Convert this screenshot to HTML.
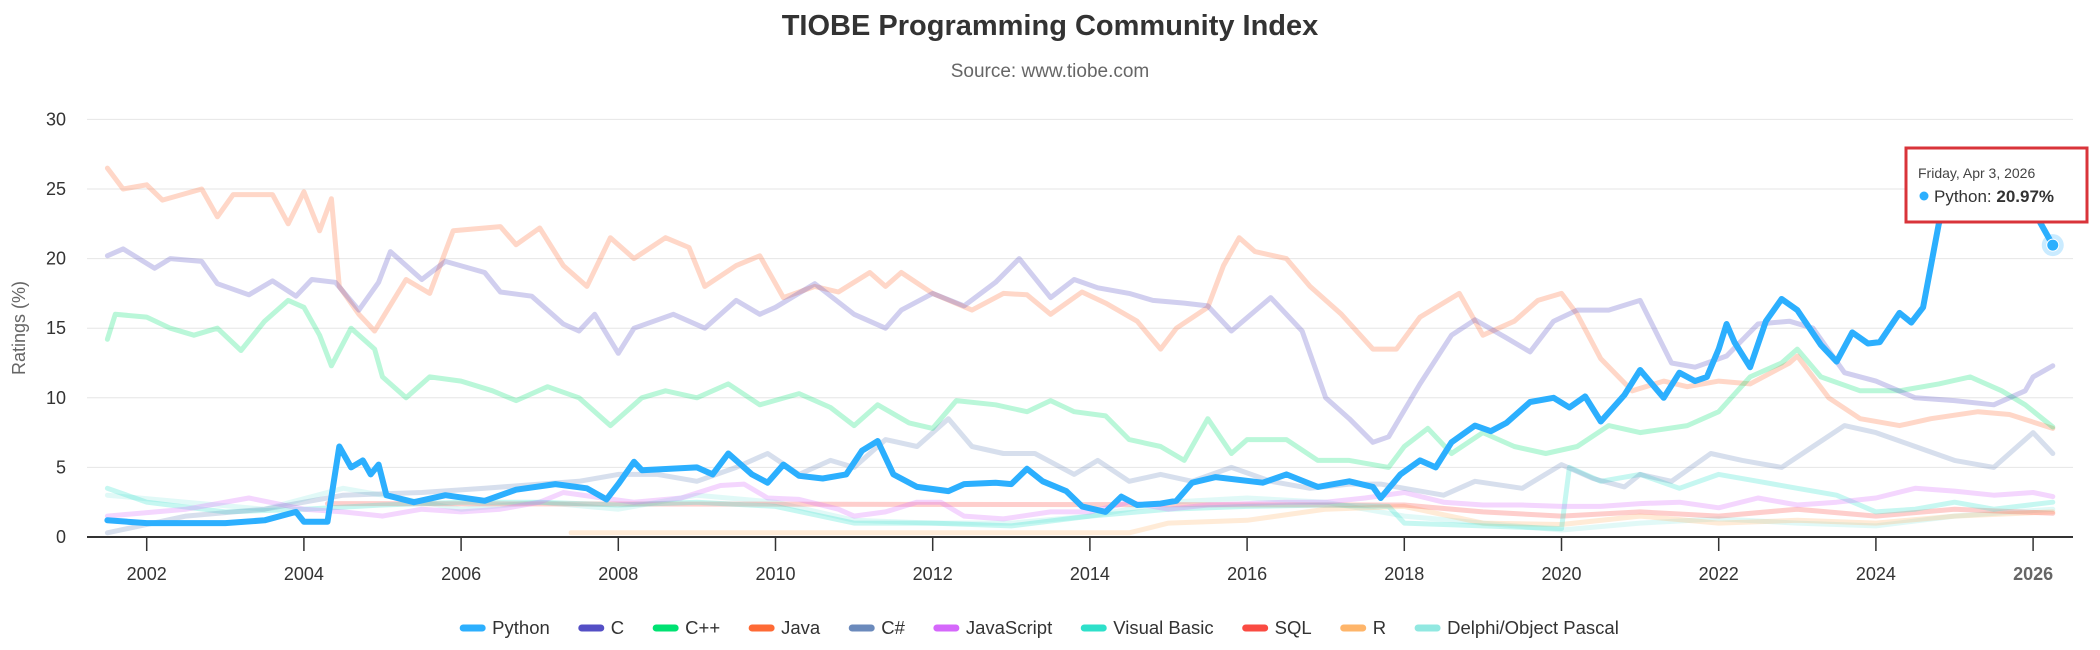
<!DOCTYPE html>
<html><head><meta charset="utf-8"><style>
html,body{margin:0;padding:0;background:#fff;}
svg{display:block;font-family:"Liberation Sans",sans-serif;}
</style></head><body>
<svg id="chart" width="2100" height="650" viewBox="0 0 2100 650" xmlns="http://www.w3.org/2000/svg">
<text x="1050" y="35" text-anchor="middle" font-size="29" font-weight="bold" fill="#333">TIOBE Programming Community Index</text>
<text x="1050" y="77" text-anchor="middle" font-size="19" fill="#666">Source: www.tiobe.com</text>
<text transform="translate(25,328) rotate(-90)" text-anchor="middle" font-size="18" fill="#666">Ratings (%)</text>
<g id="grid"></g><g id="series"></g><g id="axis"></g><g id="legend"></g>
<g>
<rect x="1906" y="148" width="181" height="74" fill="#fff" stroke="#d9343a" stroke-width="3"/>
<text x="1918" y="178" font-size="14" fill="#444">Friday, Apr 3, 2026</text>
<circle cx="1924" cy="196" r="4.5" fill="#2caffe"/>
<text x="1934" y="202" font-size="17" fill="#333">Python: <tspan font-weight="bold">20.97%</tspan></text>
</g>
</svg>
<script>
const yTicks=[0,5,10,15,20,25,30];
const xTicks=[2002,2004,2006,2008,2010,2012,2014,2016,2018,2020,2022,2024,2026];
const names=["Python","C","C++","Java","C#","JavaScript","Visual Basic","SQL","R","Delphi/Object Pascal"];
const colors=["#2caffe","#544fc5","#00e272","#fe6a35","#6b8abc","#d568fb","#2ee0ca","#fa4b42","#feb56a","#91e8e1"];
const pyT=[2001.5,2002,2003,2003.5,2003.9,2004,2004.3,2004.45,2004.6,2004.75,2004.85,2004.95,2005.05,2005.4,2005.8,2006.3,2006.7,2007.2,2007.6,2007.85,2008,2008.2,2008.3,2009,2009.2,2009.4,2009.7,2009.9,2010.1,2010.3,2010.6,2010.9,2011.1,2011.3,2011.5,2011.8,2012.2,2012.4,2012.8,2013,2013.2,2013.4,2013.7,2013.9,2014.2,2014.4,2014.6,2014.9,2015.1,2015.3,2015.6,2016.2,2016.5,2016.9,2017.3,2017.6,2017.7,2017.95,2018.2,2018.4,2018.6,2018.9,2019.1,2019.3,2019.6,2019.9,2020.1,2020.3,2020.5,2020.8,2021,2021.3,2021.5,2021.7,2021.85,2022,2022.1,2022.2,2022.4,2022.6,2022.8,2023,2023.3,2023.5,2023.7,2023.9,2024.05,2024.3,2024.45,2024.6,2024.8,2025,2025.5,2026,2026.25];
const pyV=[1.2,1.0,1.0,1.2,1.8,1.1,1.1,6.5,5.0,5.5,4.5,5.2,3.0,2.5,3.0,2.6,3.4,3.8,3.5,2.7,3.8,5.4,4.8,5.0,4.5,6.0,4.5,3.9,5.2,4.4,4.2,4.5,6.2,6.9,4.5,3.6,3.3,3.8,3.9,3.8,4.9,4.0,3.3,2.2,1.8,2.9,2.3,2.4,2.6,3.9,4.3,3.9,4.5,3.6,4.0,3.6,2.8,4.5,5.5,5.0,6.8,8.0,7.6,8.2,9.7,10.0,9.3,10.1,8.3,10.2,12.0,10.0,11.8,11.2,11.5,13.5,15.3,14.0,12.2,15.5,17.1,16.3,13.8,12.6,14.7,13.9,14.0,16.1,15.4,16.5,22.5,25.0,25.5,23.5,20.97];
const cT=[2001.5,2001.7,2002.1,2002.3,2002.7,2002.9,2003.3,2003.6,2003.9,2004.1,2004.4,2004.7,2004.95,2005.1,2005.5,2005.8,2006.3,2006.5,2006.9,2007.3,2007.5,2007.7,2008,2008.2,2008.7,2009.1,2009.5,2009.8,2010,2010.5,2011,2011.4,2011.6,2012,2012.4,2012.8,2013.1,2013.5,2013.8,2014.1,2014.5,2014.8,2015.2,2015.5,2015.8,2016.3,2016.7,2017,2017.3,2017.6,2017.8,2018.2,2018.6,2018.9,2019.3,2019.6,2019.9,2020.2,2020.6,2021,2021.4,2021.7,2022.1,2022.5,2022.9,2023.2,2023.6,2024,2024.5,2025,2025.5,2025.9,2026,2026.25];
const cV=[20.2,20.7,19.3,20,19.8,18.2,17.4,18.4,17.3,18.5,18.3,16.3,18.3,20.5,18.5,19.8,19.0,17.6,17.3,15.3,14.8,16.0,13.2,15.0,16.0,15.0,17.0,16.0,16.5,18.2,16.0,15.0,16.3,17.5,16.6,18.3,20.0,17.2,18.5,17.9,17.5,17.0,16.8,16.6,14.8,17.2,14.8,10.0,8.5,6.8,7.2,11,14.5,15.6,14.3,13.3,15.5,16.3,16.3,17.0,12.5,12.2,13.0,15.3,15.5,15.0,11.8,11.2,10.0,9.8,9.5,10.5,11.5,12.3];
const cppT=[2001.5,2001.6,2002,2002.3,2002.6,2002.9,2003.2,2003.5,2003.8,2004,2004.2,2004.35,2004.6,2004.9,2005,2005.3,2005.6,2006,2006.4,2006.7,2007.1,2007.5,2007.9,2008.3,2008.6,2009,2009.4,2009.8,2010.3,2010.7,2011,2011.3,2011.7,2012,2012.3,2012.8,2013.2,2013.5,2013.8,2014.2,2014.5,2014.9,2015.2,2015.5,2015.8,2016,2016.5,2016.9,2017.3,2017.8,2018,2018.3,2018.6,2019,2019.4,2019.8,2020.2,2020.6,2021,2021.6,2022,2022.4,2022.8,2023,2023.3,2023.8,2024.3,2024.8,2025.2,2025.6,2025.9,2026.25];
const cppV=[14.2,16.0,15.8,15.0,14.5,15.0,13.4,15.5,17.0,16.5,14.5,12.3,15.0,13.5,11.5,10.0,11.5,11.2,10.5,9.8,10.8,10.0,8.0,10.0,10.5,10.0,11.0,9.5,10.3,9.3,8.0,9.5,8.2,7.8,9.8,9.5,9.0,9.8,9.0,8.7,7.0,6.5,5.5,8.5,6.0,7.0,7.0,5.5,5.5,5.0,6.5,7.8,6.0,7.5,6.5,6.0,6.5,8.0,7.5,8.0,9.0,11.5,12.5,13.5,11.5,10.5,10.5,11.0,11.5,10.5,9.5,7.9];
const javaT=[2001.5,2001.7,2002,2002.2,2002.7,2002.9,2003.1,2003.6,2003.8,2004,2004.2,2004.35,2004.45,2004.7,2004.9,2005.3,2005.6,2005.9,2006.5,2006.7,2007,2007.3,2007.6,2007.9,2008.2,2008.6,2008.9,2009.1,2009.5,2009.8,2010.1,2010.5,2010.8,2011.2,2011.4,2011.6,2012,2012.5,2012.9,2013.2,2013.5,2013.9,2014.2,2014.6,2014.9,2015.1,2015.5,2015.7,2015.9,2016.1,2016.5,2016.8,2017.2,2017.6,2017.9,2018.2,2018.7,2019,2019.4,2019.7,2020,2020.2,2020.5,2020.9,2021.3,2021.6,2022,2022.4,2022.9,2023,2023.4,2023.8,2024.3,2024.7,2025.3,2025.7,2026.25];
const javaV=[26.5,25.0,25.3,24.2,25.0,23.0,24.6,24.6,22.5,24.8,22.0,24.3,18.0,16.0,14.8,18.5,17.5,22.0,22.3,21.0,22.2,19.5,18.0,21.5,20.0,21.5,20.8,18.0,19.5,20.2,17.2,18.0,17.6,19.0,18.0,19.0,17.5,16.3,17.5,17.4,16.0,17.6,16.8,15.5,13.5,15.0,16.5,19.5,21.5,20.5,20.0,18.0,16.0,13.5,13.5,15.8,17.5,14.5,15.5,17.0,17.5,16.0,12.8,10.5,11.2,10.8,11.2,11.0,12.5,13.0,10.0,8.5,8.0,8.5,9.0,8.8,7.8];
const csT=[2001.5,2002.5,2003.5,2004.5,2005.5,2006.3,2007,2007.5,2008,2008.5,2009,2009.5,2009.9,2010.3,2010.7,2011,2011.4,2011.8,2012.2,2012.5,2012.9,2013.3,2013.8,2014.1,2014.5,2014.9,2015.3,2015.8,2016.3,2016.8,2017.3,2017.7,2018,2018.5,2018.9,2019.5,2020,2020.4,2020.8,2021,2021.4,2021.9,2022.3,2022.8,2023.2,2023.6,2024,2024.5,2025,2025.5,2025.8,2026,2026.25];
const csV=[0.3,1.5,2.0,3.0,3.2,3.5,3.8,4.0,4.5,4.5,4.0,5.0,6.0,4.5,5.5,5.0,7.0,6.5,8.5,6.5,6.0,6.0,4.5,5.5,4.0,4.5,4.0,5.0,4.0,3.5,3.8,3.8,3.5,3.0,4.0,3.5,5.2,4.2,3.6,4.5,4.0,6.0,5.5,5.0,6.5,8.0,7.5,6.5,5.5,5.0,6.5,7.5,6.0];
const jsT=[2001.5,2002.5,2003.3,2004,2004.5,2005,2005.5,2006,2006.5,2007,2007.3,2007.8,2008.2,2008.8,2009.3,2009.6,2009.9,2010.3,2010.8,2011,2011.4,2011.8,2012.1,2012.4,2012.9,2013.5,2014,2014.5,2015,2015.5,2016,2016.5,2017,2017.5,2018,2018.5,2019,2019.5,2020,2020.5,2021,2021.5,2022,2022.5,2023,2023.5,2024,2024.5,2025,2025.5,2026,2026.25];
const jsV=[1.5,2.0,2.8,2.0,1.8,1.5,2.0,1.8,2.0,2.5,3.2,2.8,2.5,2.8,3.7,3.8,2.8,2.7,2.0,1.5,1.8,2.5,2.5,1.5,1.3,1.8,1.8,2.5,2.0,2.3,2.4,2.5,2.5,2.8,3.2,2.5,2.3,2.3,2.2,2.2,2.4,2.5,2.1,2.8,2.3,2.5,2.8,3.5,3.3,3.0,3.2,2.9];
const vbT=[2001.5,2002,2003,2004,2005,2006,2007,2008,2009,2010,2011,2012,2013,2014,2015,2016,2017,2017.8,2018,2019,2020,2020.1,2020.5,2021,2021.5,2022,2022.5,2023,2023.5,2024,2024.5,2025,2025.5,2026.25];
const vbV=[3.5,2.5,1.8,2.0,2.3,2.5,2.5,2.3,2.5,2.2,1.0,1.0,0.8,1.5,2.0,2.2,2.3,2.2,1.0,0.8,0.6,5.0,4.0,4.5,3.5,4.5,4.0,3.5,3.0,1.8,2.0,2.5,2.0,2.5];
const sqlT=[2004.3,2018,2019,2020,2021,2022,2023,2024,2025,2026.25];
const sqlV=[2.4,2.3,1.8,1.5,1.8,1.5,2.0,1.5,2.0,1.7];
const rT=[2007.4,2014.5,2015,2016,2017,2018,2019,2020,2021,2022,2023,2024,2025,2026.25];
const rV=[0.3,0.3,1.0,1.2,2.0,2.2,1.0,0.9,1.5,1.0,1.2,1.0,1.5,1.8];
const dT=[2001.5,2002.5,2003.5,2004.5,2005,2006,2007,2008,2009,2010,2011,2012,2013,2014,2015,2016,2017,2018,2019,2020,2021,2022,2023,2024,2025,2026.25];
const dV=[3.0,2.5,2.0,3.5,3.0,2.0,2.5,2.0,3.0,2.5,1.2,1.0,1.0,1.5,2.5,2.8,2.5,1.5,1.0,0.5,1.0,1.3,1.0,0.8,1.5,2.0];

const NS="http://www.w3.org/2000/svg";
const X=t=>146.7+(t-2002)*78.6;
const Y=v=>537-v*13.92;
function mk(tag,attrs,parent){const e=document.createElementNS(NS,tag);for(const k in attrs)e.setAttribute(k,attrs[k]);parent.appendChild(e);return e;}
const grid=document.getElementById('grid'),axis=document.getElementById('axis'),ser=document.getElementById('series'),leg=document.getElementById('legend');
yTicks.forEach(v=>{
  if(v>0){const l=mk('line',{x1:87,x2:2073,y1:Y(v),y2:Y(v),stroke:'#e6e6e6','stroke-width':1},grid);
  
  }
  const t=mk('text',{x:66,y:Y(v)+6,'text-anchor':'end','font-size':18,fill:'#333'},axis);t.textContent=v;
  
  
});
const ax=mk('line',{x1:87,x2:2073,y1:537,y2:537,stroke:'#333','stroke-width':2},axis);


xTicks.forEach(y=>{
  const tk=mk('line',{x1:X(y),x2:X(y),y1:537,y2:551,stroke:'#333','stroke-width':1.5},axis);
  
  
  const t=mk('text',{x:X(y),y:580,'text-anchor':'middle','font-size':18,fill:y===2026?'#666':'#333','font-weight':y===2026?'bold':'normal'},axis);t.textContent=y;
  
  
});
const data=[[pyT,pyV],[cT,cV],[cppT,cppV],[javaT,javaV],[csT,csV],[jsT,jsV],[vbT,vbV],[sqlT,sqlV],[rT,rV],[dT,dV]];
for(let i=data.length-1;i>=0;i--){
  const [ts,vs]=data[i];
  const pts=ts.map((t,j)=>X(t).toFixed(1)+','+Y(vs[j]).toFixed(1)).join(' ');
  const p=mk('polyline',{points:pts,fill:'none',stroke:colors[i],'stroke-width':i===0?6:5,'stroke-linejoin':'round','stroke-linecap':'round',opacity:i===0?1:0.27},ser);
  
  
}
const last=pyT.length-1;
const halo=mk('circle',{cx:X(pyT[last]),cy:Y(pyV[last]),r:11,fill:'#2caffe',opacity:0.25},ser);


const pt=mk('circle',{cx:X(pyT[last]),cy:Y(pyV[last]),r:6,fill:'#2caffe',stroke:'#fff','stroke-width':1},ser);


const widths=[];let total=0;
const tmp=mk('text',{'font-size':18.5},leg);
names.forEach(n=>{tmp.textContent=n;const w=tmp.getComputedTextLength()+31;widths.push(w);total+=w+30;});
leg.removeChild(tmp);
let lx=1040-(total-30)/2;
names.forEach((n,i)=>{
  const g=mk('g',{},leg);
  
  
  mk('line',{x1:lx+2,x2:lx+21,y1:628,y2:628,stroke:colors[i],'stroke-width':7,'stroke-linecap':'round'},g);
  const t=mk('text',{x:lx+31,y:634,'font-size':18.5,fill:'#333'},g);t.textContent=n;
  lx+=widths[i]+30;
});
</script>
</body></html>
